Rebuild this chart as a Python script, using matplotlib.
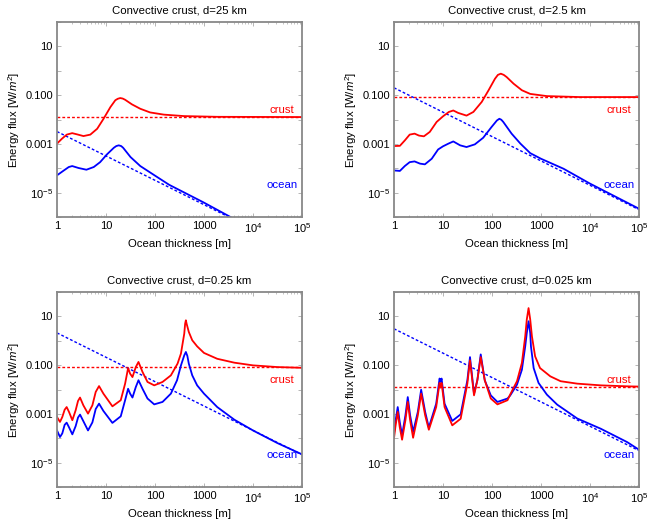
import numpy as np
import matplotlib.pyplot as plt

plt.rcParams['font.family'] = ['Liberation Sans', 'DejaVu Sans']
plt.rcParams['mathtext.fontset'] = 'custom'
plt.rcParams['mathtext.rm'] = 'Liberation Sans'
plt.rcParams['mathtext.it'] = 'Liberation Sans:italic'

# Panel titles (crust thickness d)
titles = ["Convective crust, d=25 km", "Convective crust, d=2.5 km",
          "Convective crust, d=0.25 km", "Convective crust, d=0.025 km"]

# Curves, as log10(ocean thickness [m]) and log10(flux [W/m^2])
# d = 25 km
tl_crust_lx = [0, 0.10, 0.20, 0.31, 0.41, 0.54, 0.68, 0.82, 0.95, 1.09, 1.19, 1.24, 1.29,
               1.34, 1.39, 1.53, 1.70, 1.90, 2.18, 2.59, 3.27, 5.0]
tl_crust_ly = [-2.99, -2.79, -2.62, -2.56, -2.61, -2.68, -2.62, -2.38, -1.97, -1.49,
               -1.21, -1.15, -1.12, -1.14, -1.19, -1.38, -1.56, -1.71, -1.80, -1.86,
               -1.89, -1.90]
tl_ocean_lx = [0, 0.14, 0.24, 0.31, 0.44, 0.60, 0.75, 0.88, 1.02, 1.16, 1.21, 1.26, 1.31,
               1.35, 1.50, 1.70, 1.99, 2.29, 2.99, 3.54, 3.70]
tl_ocean_ly = [-4.29, -4.09, -3.95, -3.91, -3.99, -4.06, -3.95, -3.75, -3.43, -3.16,
               -3.09, -3.06, -3.09, -3.16, -3.54, -3.91, -4.29, -4.68, -5.40, -6.00, -6.20]

# d = 2.5 km
tr_crust_lx = [0, 0.12, 0.22, 0.32, 0.42, 0.51, 0.61, 0.73, 0.87, 1.00, 1.12, 1.21,
               1.31, 1.48, 1.62, 1.79, 1.93, 2.06, 2.12, 2.18, 2.24, 2.30, 2.44, 2.61,
               2.78, 3.12, 3.80, 5.0]
tr_crust_ly = [-3.09, -3.08, -2.86, -2.62, -2.58, -2.66, -2.69, -2.51, -2.10, -1.87,
               -1.69, -1.63, -1.73, -1.84, -1.69, -1.28, -0.80, -0.33, -0.17, -0.12,
               -0.17, -0.26, -0.53, -0.80, -0.95, -1.04, -1.08, -1.08]
tr_ocean_lx = [0, 0.12, 0.22, 0.32, 0.42, 0.53, 0.63, 0.77, 0.90, 1.00, 1.11, 1.21,
               1.35, 1.48, 1.65, 1.82, 1.99, 2.10, 2.15, 2.19, 2.23, 2.40, 2.58, 2.78,
               3.00, 3.46, 4.00, 5.0]
tr_ocean_ly = [-4.09, -4.11, -3.91, -3.75, -3.72, -3.81, -3.84, -3.61, -3.23, -3.10,
               -2.99, -2.90, -3.06, -3.13, -3.02, -2.75, -2.31, -2.04, -1.97, -2.01,
               -2.10, -2.58, -2.99, -3.38, -3.61, -4.02, -4.63, -5.66]

# d = 0.25 km
bl_crust_lx = [0.0, 0.061, 0.108, 0.156, 0.197, 0.245, 0.313, 0.381, 0.429, 0.470,
               0.538, 0.633, 0.722, 0.790, 0.858, 0.947, 1.131, 1.301, 1.390, 1.451,
               1.492, 1.540, 1.608, 1.663, 1.745, 1.847, 1.984, 2.154, 2.324, 2.460,
               2.529, 2.597, 2.615, 2.63, 2.645, 2.69, 2.76, 2.86, 3.00, 3.27,
               3.62, 4.00, 4.50, 5.0]
bl_crust_ly = [-3.13, -3.33, -3.13, -2.83, -2.72, -2.92, -3.26, -2.85, -2.47, -2.33,
               -2.65, -2.99, -2.65, -2.10, -1.86, -2.17, -2.69, -2.44, -1.76, -1.12,
               -1.35, -1.49, -1.08, -0.87, -1.28, -1.69, -1.83, -1.69, -1.42, -0.94,
               -0.53, 0.29, 0.70, 0.84, 0.70, 0.36, 0.02, -0.23, -0.50, -0.74,
               -0.90, -1.01, -1.08, -1.11]
bl_ocean_lx = [0.0, 0.061, 0.108, 0.156, 0.197, 0.245, 0.313, 0.381, 0.429, 0.470,
               0.538, 0.633, 0.722, 0.790, 0.858, 0.947, 1.131, 1.301, 1.390, 1.451,
               1.492, 1.540, 1.608, 1.663, 1.745, 1.847, 1.984, 2.154, 2.324, 2.45,
               2.53, 2.597, 2.63, 2.66, 2.69, 2.76, 2.86, 3.00, 3.27, 3.62,
               4.00, 4.50, 5.0]
bl_ocean_ly = [-3.68, -3.95, -3.80, -3.45, -3.36, -3.55, -3.84, -3.50, -3.15, -3.03,
               -3.30, -3.68, -3.35, -2.80, -2.58, -2.88, -3.37, -3.10, -2.44, -1.97,
               -2.17, -2.33, -1.90, -1.62, -1.97, -2.37, -2.61, -2.51, -2.17, -1.62,
               -1.01, -0.60, -0.46, -0.62, -0.94, -1.42, -1.83, -2.17, -2.72, -3.24,
               -3.68, -4.20, -4.66]

# d = 0.025 km
br_crust_lx = [0, 0.028, 0.076, 0.117, 0.165, 0.233, 0.281, 0.329, 0.390, 0.486,
               0.554, 0.636, 0.711, 0.861, 0.930, 0.950, 0.971, 1.032, 1.189, 1.360,
               1.497, 1.551, 1.633, 1.701, 1.770, 1.852, 1.975, 2.111, 2.316, 2.37,
               2.51, 2.61, 2.678, 2.71, 2.746, 2.78, 2.815, 2.88, 2.98, 3.19,
               3.40, 3.74, 4.22, 4.76, 5.0]
br_crust_ly = [-4.00, -3.54, -2.92, -3.54, -4.06, -3.26, -2.51, -3.26, -3.98, -3.06,
               -2.17, -3.06, -3.65, -2.72, -1.73, -1.92, -1.73, -2.72, -3.47, -3.20,
               -1.76, -0.80, -2.24, -1.62, -0.67, -1.62, -2.37, -2.61, -2.44, -2.21,
               -1.66, -0.91, 0.18, 0.87, 1.34, 0.87, 0.18, -0.64, -1.12, -1.46,
               -1.66, -1.76, -1.83, -1.87, -1.88]
br_ocean_lx = [0, 0.028, 0.076, 0.117, 0.165, 0.233, 0.281, 0.329, 0.390, 0.486,
               0.554, 0.636, 0.711, 0.861, 0.930, 0.950, 0.971, 1.032, 1.189, 1.360,
               1.497, 1.551, 1.633, 1.701, 1.770, 1.852, 1.975, 2.111, 2.316, 2.37,
               2.51, 2.61, 2.678, 2.71, 2.746, 2.78, 2.795, 2.85, 2.95, 3.12,
               3.33, 3.74, 4.22, 4.76, 5.0]
br_ocean_ly = [-3.80, -3.33, -2.72, -3.33, -3.88, -3.06, -2.31, -3.06, -3.74, -2.92,
               -2.01, -2.92, -3.56, -2.58, -1.55, -1.69, -1.55, -2.58, -3.29, -3.02,
               -1.62, -0.67, -2.17, -1.62, -0.56, -1.62, -2.24, -2.51, -2.37, -2.25,
               -1.80, -1.19, -0.23, 0.32, 0.80, 0.32, -0.23, -1.12, -1.73, -2.21,
               -2.62, -3.19, -3.61, -4.16, -4.47]

# Asymptotes: flat crust flux and ocean flux ~ 1/thickness (value at 1 m)
crust_level = [0.0125, 0.082, 0.08, 0.0127]
ocean_at_1m = [0.0032, 0.2, 2.1, 3.1]

panels = [
    (tl_crust_lx, tl_crust_ly, tl_ocean_lx, tl_ocean_ly),
    (tr_crust_lx, tr_crust_ly, tr_ocean_lx, tr_ocean_ly),
    (bl_crust_lx, bl_crust_ly, bl_ocean_lx, bl_ocean_ly),
    (br_crust_lx, br_crust_ly, br_ocean_lx, br_ocean_ly),
]

xticks = [1, 10, 100, 1000, 1e4, 1e5]
xticklabels = ["1", "10", "100", "1000", "$10^4$", "$10^5$"]
yticks = [1e-6, 1e-5, 1e-4, 1e-3, 1e-2, 1e-1, 1, 10, 100]
yticklabels = ["", "$10^{-5}$", "", "0.001", "", "0.100", "", "10", ""]

W, H = 654, 523
fig = plt.figure(figsize=(W / 100, H / 100), dpi=100)
boxes = [(57, 22), (394, 22), (57, 292), (394, 292)]
aw, ah = 245, 195

for i, (bx, by) in enumerate(boxes):
    ax = fig.add_axes([bx / W, (H - by - ah) / H, aw / W, ah / H])
    clx, cly, olx, oly = panels[i]
    xs = np.array([1, 1e5])

    ax.plot(xs, [crust_level[i]] * 2, color='red', lw=1, ls=(0, (2, 1.5)))
    ax.plot(xs, ocean_at_1m[i] / xs, color='blue', lw=1, ls=(0, (2, 1.5)))
    ax.plot(10 ** np.array(olx), 10 ** np.array(oly), color='blue', lw=1.3)
    ax.plot(10 ** np.array(clx), 10 ** np.array(cly), color='red', lw=1.3)

    ax.set_xscale('log')
    ax.set_yscale('log')
    ax.set_xlim(1, 1e5)
    ax.set_ylim(1e-6, 100)
    ax.set_xticks(xticks)
    ax.set_xticklabels(xticklabels)
    ax.set_yticks(yticks)
    ax.set_yticklabels(yticklabels)
    ax.yaxis.set_minor_locator(plt.NullLocator())
    ax.tick_params(which='both', direction='in', colors='#aaaaaa', labelcolor='black',
                   labelsize=8, top=True, right=True, pad=3)
    ax.tick_params(which='major', length=3, width=0.6)
    ax.tick_params(which='minor', length=1.5, width=0.5)
    for s in ax.spines.values():
        s.set_color('#888888')
        s.set_linewidth(1.3)

    ax.set_title(titles[i], fontsize=8.2, pad=6)
    ax.set_xlabel("Ocean thickness [m]", fontsize=8.2, labelpad=3)
    ax.set_ylabel("Energy flux [W/$m^2$]", fontsize=8.2, labelpad=2)
    ax.text(0.918, 0.549, "crust", color='red', fontsize=8.2, ha='center', va='center',
            transform=ax.transAxes)
    ax.text(0.918, 0.164, "ocean", color='blue', fontsize=8.2, ha='center', va='center',
            transform=ax.transAxes)

fig.savefig("out.png", dpi=100)
